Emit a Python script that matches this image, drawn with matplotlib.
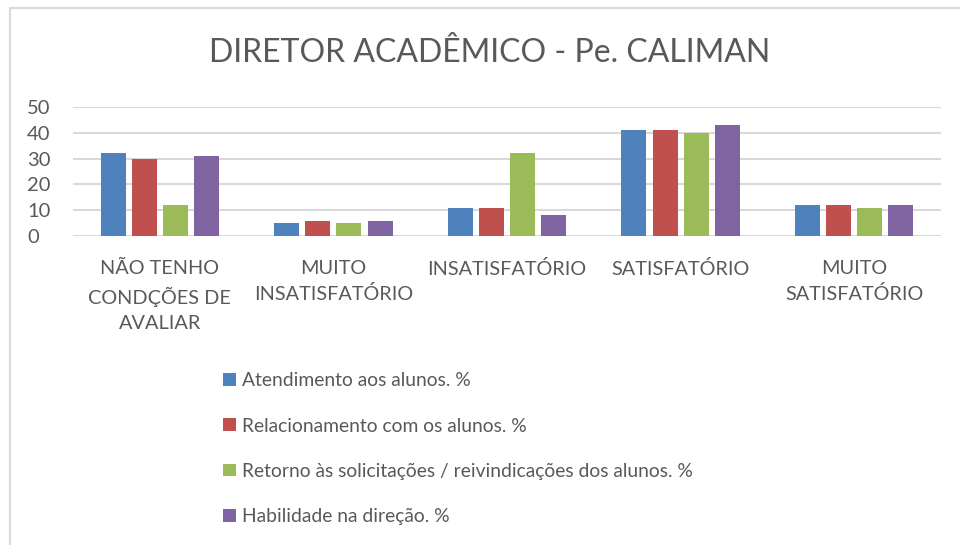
import matplotlib
matplotlib.use("Agg")
import matplotlib.pyplot as plt
import numpy as np
from matplotlib.patches import Rectangle

categories = ["NÃO TENHO\nCONDÇÕES DE\nAVALIAR", "MUITO\nINSATISFATÓRIO", "INSATISFATÓRIO",
              "SATISFATÓRIO", "MUITO\nSATISFATÓRIO"]
series_names = ["Atendimento aos alunos. %", "Relacionamento com os alunos. %",
                "Retorno às solicitações / reivindicações dos alunos. %", "Habilidade na direção. %"]
atendimento = [32, 5, 11, 41, 12]
relacionamento = [30, 6, 11, 41, 12]
retorno = [12, 5, 32, 40, 11]
habilidade = [31, 6, 8, 43, 12]
yticks = [0, 10, 20, 30, 40, 50]
title = "DIRETOR ACADÊMICO - Pe. CALIMAN"

colors = ["#4F81BD", "#C0504D", "#9BBB59", "#8064A2"]
txt = "#595959"
plt.rcParams['font.family'] = ['Lato', 'DejaVu Sans']

fig = plt.figure(figsize=(9.6, 5.45), dpi=100)
W, H = 960, 545
ax = fig.add_axes([73/W, 1-236/H, (941-73)/W, (236-107)/H])

x = np.arange(len(categories))
bw = 0.144
step = 0.179
for i, (vals, c, name) in enumerate(zip([atendimento, relacionamento, retorno, habilidade], colors, series_names)):
    ax.bar(x + (i-1.5)*step, vals, width=bw, color=c, label=name, zorder=3)

ax.set_xlim(-0.5, len(categories)-0.5)
ax.set_ylim(0, 50)
ax.set_yticks(yticks)
ax.set_yticklabels([str(v) for v in yticks], fontsize=14.5, color=txt)
ax.set_xticks(x)
ax.set_xticklabels(categories, fontsize=14.3, color=txt, linespacing=1.58, va='top')
ax.tick_params(axis='both', length=0)
ax.tick_params(axis='x', pad=17)
ax.tick_params(axis='y', pad=33)
for lab in ax.get_yticklabels():
    lab.set_horizontalalignment('left')
ax.grid(axis='y', color='#D9D9D9', linewidth=1.5, zorder=0)
for s in ax.spines.values():
    s.set_visible(False)

fig.text(490/W, 1-53/H, title, ha='center', va='center', fontsize=23, color=txt)

handles, labels = ax.get_legend_handles_labels()
fig.legend(handles, labels, loc='upper left', bbox_to_anchor=(206/W, 1-355/H),
           frameon=False, ncol=1, fontsize=13.9, labelcolor=txt,
           handlelength=0.65, handleheight=0.65, handletextpad=0.3, labelspacing=1.46)

fig.add_artist(Rectangle((10/W, -0.1), 1.2, 1 - 8/H + 0.1, transform=fig.transFigure,
                         fill=False, edgecolor='#D9D9D9', linewidth=1.5))

fig.savefig("out.png", dpi=100)
